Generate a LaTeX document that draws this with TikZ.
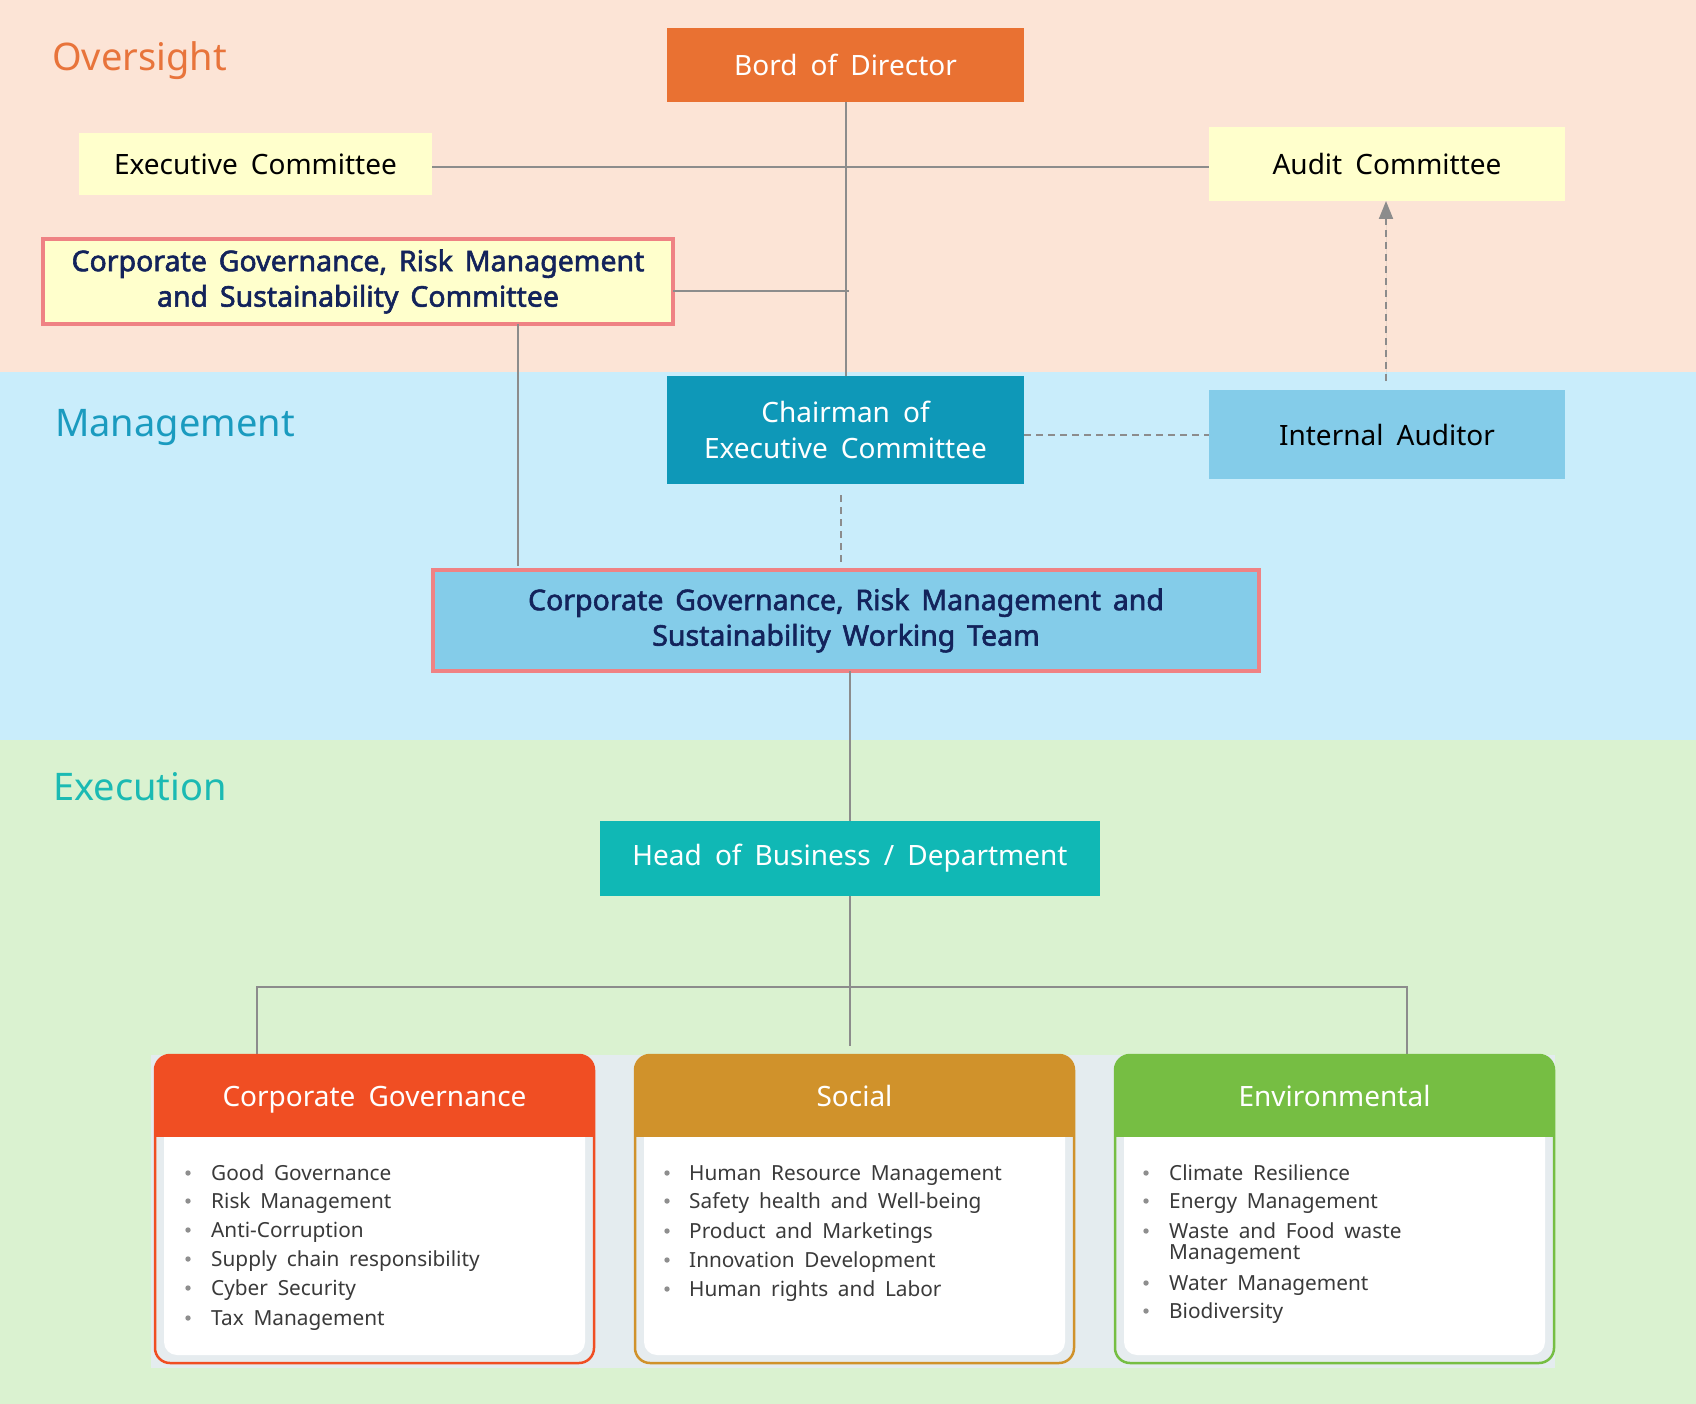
\documentclass[tikz,border=0pt]{standalone}
\usepackage{fontspec}
\setmainfont{Noto Sans}[WordSpace=1.8]
\newfontfamily\cgbold{Noto Sans}[FakeBold=2, WordSpace=1.6]
\usetikzlibrary{arrows.meta,calc}
\definecolor{bandO}{HTML}{FCE4D6}
\definecolor{bandM}{HTML}{C9EDFB}
\definecolor{bandE}{HTML}{DAF2D0}
\definecolor{titO}{HTML}{E8743B}
\definecolor{titM}{HTML}{1A9BBF}
\definecolor{titE}{HTML}{1BBAB3}
\definecolor{bordc}{HTML}{E97132}
\definecolor{yel}{HTML}{FFFFCC}
\definecolor{pinkb}{HTML}{EF8284}
\definecolor{navy}{HTML}{13235B}
\definecolor{chairc}{HTML}{0E98B8}
\definecolor{lblue}{HTML}{84CCE9}
\definecolor{headc}{HTML}{10B8B5}
\definecolor{lineg}{HTML}{8C8C8C}
\definecolor{cardbg}{HTML}{E4ECEF}
\definecolor{cardin}{HTML}{E6ECEF}
\definecolor{cgcol}{HTML}{F04E23}
\definecolor{socol}{HTML}{D0922B}
\definecolor{encol}{HTML}{76BE43}
\definecolor{itemtxt}{HTML}{3A3A3A}
\definecolor{bulletc}{HTML}{8E8E8E}
\begin{document}
\begin{tikzpicture}[x=1pt,y=-1pt,
  box/.style={inner sep=0pt, outer sep=0pt, align=center, font=\fontsize{28}{35.5}\selectfont},
  cgbox/.style={box, draw=pinkb, line width=4pt, text=navy, font=\cgbold\fontsize{28.5}{35.5}\selectfont},
  conn/.style={draw=lineg, line width=2pt},
  dconn/.style={conn, dash pattern=on 7pt off 5pt},
  bandtitle/.style={anchor=west, inner sep=0pt, font=\fontsize{38}{42}\selectfont},
  item/.style={anchor=base west, inner sep=0pt, text=itemtxt, font=\fontsize{20.8}{24}\selectfont},
  cardtitle/.style={text=white, inner sep=0pt, anchor=base, font=\fontsize{28}{32}\selectfont}]
\useasboundingbox (0,0) rectangle (1696,1404);
% bands
\fill[bandO] (0,0) rectangle (1696,372);
\fill[bandM] (0,372) rectangle (1696,740);
\fill[bandE] (0,740) rectangle (1696,1404);
\node[bandtitle, text=titO] (tO) at (52,61) {Oversight};
\node[bandtitle, text=titM] (tM) at (55,427) {Management};
\node[bandtitle, text=titE] (tE) at (53,787) {Execution};
% boxes
\node[box, fill=bordc, text=white, minimum width=357, minimum height=74] (bord) at (845.5,65) {Bord of Director};
\node[box, fill=yel, text=black, minimum width=353, minimum height=62] (exec) at (255.5,164) {Executive Committee};
\node[box, fill=yel, text=black, minimum width=356, minimum height=74] (audit) at (1387,164) {Audit Committee};
\node[cgbox, fill=yel, minimum width=630, minimum height=85] (cgc) at (358,281.5) {Corporate Governance, Risk Management\\and Sustainability Committee};
\node[box, fill=chairc, text=white, minimum width=357, minimum height=108] (chair) at (845.5,430) {Chairman of\\Executive Committee};
\node[box, fill=lblue, text=black, minimum width=356, minimum height=89] (ia) at (1387,434.5) {Internal Auditor};
\node[cgbox, fill=lblue, minimum width=826, minimum height=101] (wt) at (846,620.5) {Corporate Governance, Risk Management and\\Sustainability Working Team};
\node[box, fill=headc, text=white, minimum width=500, minimum height=75] (head) at (850,858.5) {Head of Business / Department};
% connectors top
\draw[conn] (exec.east |- 0,167) -- (audit.west |- 0,167);
\draw[conn] (bord.south) -- (chair.north);
\coordinate (cgcj) at (849,291);
\draw[conn] (cgc.east |- cgcj) -- (cgcj);
\coordinate (cgcd) at (518,566);
\draw[conn] (cgc.south -| cgcd) -- (cgcd);
\coordinate (iatop) at (1386,381);
\draw[dconn, -{Triangle[length=18pt,width=14pt]}, fill=lineg] (iatop) -- (audit.south -| iatop);
\draw[dconn] (chair.east |- ia.west) -- (ia.west);
\coordinate (chd1) at (841,495);
\coordinate (chd2) at (841,566);
\draw[dconn] (chd1) -- (chd2);
\draw[conn] (wt.south -| head.north) -- (head.north);
% card background
\fill[cardbg] (151,1055) rectangle (1555,1368);
% branch connectors
\coordinate (brL) at (257,987);
\coordinate (brC) at (850,987);
\coordinate (brR) at (1407,987);
\coordinate (cLtop) at (257,1055);
\coordinate (cRtop) at (1407,1055);
\coordinate (cCend) at (850,1046);
\draw[conn] (head.south) -- (cCend);
\draw[conn] (cLtop) -- (brL) -- (brR) -- (cRtop);
% cards
\foreach \xa/\xb/\col in {155/594/cgcol, 635/1074/socol, 1115/1554/encol}{
  \begin{scope}
    \clip[rounded corners=15pt] (\xa,1055) rectangle (\xb,1363);
    \fill[cardin] (\xa,1055) rectangle (\xb,1363);
    \fill[white, rounded corners=13pt] (\xa+9,1110) rectangle (\xb-9,1355);
    \fill[\col] (\xa,1055) rectangle (\xb,1137);
  \end{scope}
  \draw[\col, line width=2.5pt, rounded corners=15pt] (\xa,1055) rectangle (\xb,1363);
}
\node[cardtitle] (cgt) at (374.5,1106) {Corporate Governance};
\node[cardtitle] (sot) at (854.5,1106) {Social};
\node[cardtitle] (ent) at (1334.5,1106) {Environmental};
% CG items
\foreach \y/\t [count=\i] in {1173/Good Governance, 1201/Risk Management, 1230/Anti-Corruption, 1259/Supply chain responsibility, 1288/Cyber Security, 1318/Tax Management}{
  \fill[bulletc] (188,\y) circle (2.7pt);
  \node[item] (cg-\i) at (211,\y+7) {\t};
}
\foreach \y/\t [count=\i] in {1173/Human Resource Management, 1201/Safety health and Well-being, 1231/Product and Marketings, 1260/Innovation Development, 1289/Human rights and Labor}{
  \fill[bulletc] (667,\y) circle (2.7pt);
  \node[item] (so-\i) at (689,\y+7) {\t};
}
\foreach \y/\t [count=\i] in {1173/Climate Resilience, 1201/Energy Management, 1231/Waste and Food waste, 1283/Water Management, 1311/Biodiversity}{
  \fill[bulletc] (1146,\y) circle (2.7pt);
  \node[item] (en-\i) at (1169,\y+7) {\t};
}
\node[item] (en-3b) at (1169,1259) {Management};
\end{tikzpicture}
\end{document}
